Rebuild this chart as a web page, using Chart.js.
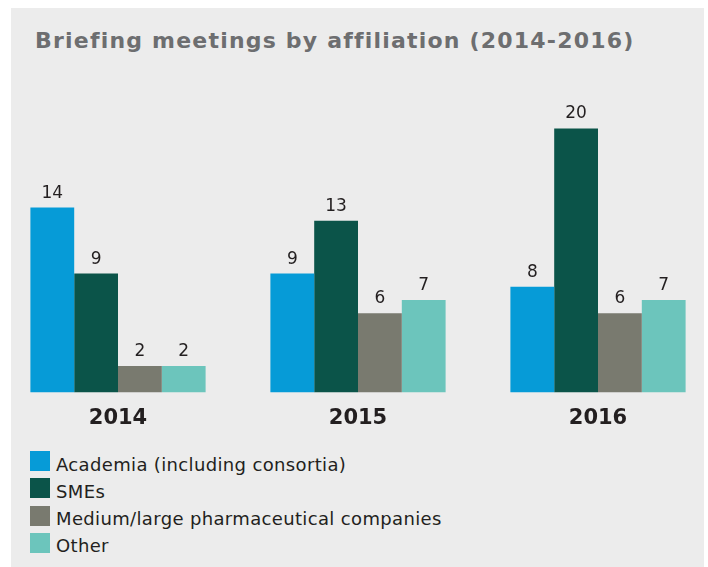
<!DOCTYPE html>
<html lang="en">
  <head>
    <meta charset="UTF-8" />
    <title>Briefing meetings by affiliation (2014-2016)</title>
    <script src="https://cdn.jsdelivr.net/npm/chart.js"></script>
    <style>
      html, body {
        margin: 0;
        width: 708px;
        height: 567px;
        overflow: hidden;
        background: #ffffff;
        font-family: "DejaVu Sans", Verdana, sans-serif;
      }
      .panel {
        position: absolute;
        left: 11px;
        top: 8px;
        width: 693px;
        height: 559px;
        background: #ececec;
      }
      .title {
        position: absolute;
        left: 35px;
        top: 29.7px;
        margin: 0;
        font-size: 22px;
        line-height: 22px;
        letter-spacing: 1.2px;
        font-weight: bold;
        color: #6d6e70;
        white-space: nowrap;
      }
      .chart-box {
        position: absolute;
        left: -2px;
        top: 101.6px;
        width: 720px;
        height: 330.4px;
      }
      .legend {
        position: absolute;
        left: 30px;
        top: 451px;
      }
      .legend-item {
        position: relative;
        height: 27.33px;
      }
      .legend-item .box {
        position: absolute;
        left: 0;
        top: 0;
        width: 20px;
        height: 20px;
      }
      .legend-item .txt {
        position: absolute;
        left: 26px;
        top: 3.5px;
        font-size: 18px;
        line-height: 20px;
        letter-spacing: 0.35px;
        color: #231f20;
        white-space: nowrap;
      }
    </style>
  </head>

  <body>
    <div class="panel"></div>
    <h1 class="title">Briefing meetings by affiliation (2014-2016)</h1>
    <div class="chart-box"><canvas id="meetingsChart"></canvas></div>
    <div class="legend" id="legend"></div>

    <script>
      // Data
      const years = ["2014", "2015", "2016"];
      const seriesNames = [
        "Academia (including consortia)",
        "SMEs",
        "Medium/large pharmaceutical companies",
        "Other",
      ];
      const academia = [14, 9, 8];
      const smes = [9, 13, 20];
      const pharma = [2, 6, 6];
      const other = [2, 7, 7];
      const colors = ["#069bd7", "#0b5449", "#797a6f", "#6cc5bc"];

      const seriesValues = [academia, smes, pharma, other];

      // Value labels above bars
      const valueLabels = {
        id: "valueLabels",
        afterDatasetsDraw(chart) {
          const ctx = chart.ctx;
          ctx.save();
          ctx.font = '17px "DejaVu Sans"';
          ctx.fillStyle = "#231f20";
          ctx.textAlign = "center";
          ctx.textBaseline = "alphabetic";
          chart.data.datasets.forEach((ds, i) => {
            chart.getDatasetMeta(i).data.forEach((bar, j) => {
              ctx.fillText(String(ds.data[j]), bar.x, bar.y - 10);
            });
          });
          ctx.restore();
        },
      };

      new Chart(document.getElementById("meetingsChart"), {
        type: "bar",
        data: {
          labels: years,
          datasets: seriesNames.map((name, i) => ({
            label: name,
            data: seriesValues[i],
            backgroundColor: colors[i],
            borderWidth: 0,
            categoryPercentage: 0.73,
            barPercentage: 1.0,
          })),
        },
        options: {
          responsive: true,
          maintainAspectRatio: false,
          animation: false,
          layout: { padding: 0 },
          plugins: {
            legend: { display: false },
            tooltip: { enabled: false },
          },
          scales: {
            x: {
              grid: { display: false, drawTicks: false },
              border: { display: false },
              ticks: {
                padding: 14,
                color: "#231f20",
                font: { family: "DejaVu Sans", size: 21, weight: "bold" },
              },
              afterFit(scale) {
                scale.height = 40;
              },
            },
            y: {
              display: false,
              min: 0,
              max: 22,
            },
          },
        },
        plugins: [valueLabels],
      });

      // Legend (HTML)
      const legendEl = document.getElementById("legend");
      seriesNames.forEach((name, i) => {
        const item = document.createElement("div");
        item.className = "legend-item";
        const box = document.createElement("span");
        box.className = "box";
        box.style.background = colors[i];
        const txt = document.createElement("span");
        txt.className = "txt";
        txt.textContent = name;
        item.appendChild(box);
        item.appendChild(txt);
        legendEl.appendChild(item);
      });
    </script>
  </body>
</html>
